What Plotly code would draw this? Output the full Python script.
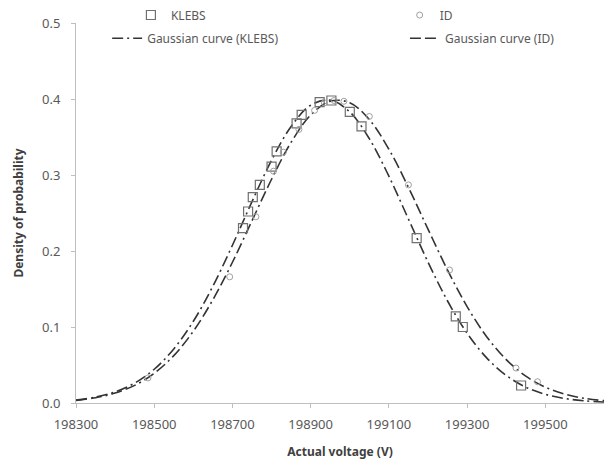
import plotly.graph_objects as go

# measured points
klebs_v = [198727, 198740, 198752, 198770, 198800, 198813, 198864, 198877,
           198923, 198953, 199000, 199030, 199171, 199271, 199289, 199438]
klebs_d = [0.230, 0.252, 0.271, 0.287, 0.311, 0.331, 0.368, 0.379,
           0.396, 0.398, 0.383, 0.364, 0.217, 0.114, 0.100, 0.023]

id_v = [198484, 198693, 198760, 198805, 198830, 198870, 198910, 198935,
        198960, 198985, 199050, 199150, 199255, 199425, 199480]
id_d = [0.033, 0.166, 0.245, 0.305, 0.330, 0.360, 0.385, 0.395,
        0.398, 0.397, 0.377, 0.287, 0.175, 0.046, 0.028]

# gaussian curves
curve_v = [198300, 198350, 198400, 198450, 198500, 198550, 198600, 198650,
           198700, 198750, 198800, 198850, 198900, 198950, 199000, 199050,
           199100, 199150, 199200, 199250, 199300, 199350, 199400, 199450,
           199500, 199550, 199600, 199650]
gauss_klebs = [0.0038, 0.0077, 0.0146, 0.0262, 0.0444, 0.0712, 0.1075, 0.1537,
               0.2076, 0.2650, 0.3194, 0.3639, 0.3918, 0.3985, 0.3830, 0.3478,
               0.2984, 0.2420, 0.1854, 0.1342, 0.0918, 0.0594, 0.0363, 0.0209,
               0.0114, 0.0059, 0.0029, 0.0013]
gauss_id = [0.0035, 0.0070, 0.0131, 0.0232, 0.0391, 0.0623, 0.0945, 0.1359,
            0.1852, 0.2398, 0.2944, 0.3430, 0.3789, 0.3972, 0.3951, 0.3729,
            0.3339, 0.2837, 0.2287, 0.1749, 0.1268, 0.0873, 0.0571, 0.0353,
            0.0208, 0.0116, 0.0061, 0.0031]

fig = go.Figure()

fig.add_trace(go.Scatter(x=curve_v, y=gauss_klebs, mode='lines', name='Gaussian curve (KLEBS)',
                         line=dict(color='#333333', width=1.6, dash='11px,4px,2px,4px', shape='spline'),
                         legend='legend3'))
fig.add_trace(go.Scatter(x=curve_v, y=gauss_id, mode='lines', name='Gaussian curve (ID)',
                         line=dict(color='#333333', width=1.6, dash='11px,4px,11px,4px,2px,4px', shape='spline'),
                         legend='legend4'))
fig.add_trace(go.Scatter(x=klebs_v, y=klebs_d, mode='markers', name='KLEBS',
                         marker=dict(symbol='square-open', size=9, color='#707070', line=dict(width=1.2)),
                         legend='legend'))
fig.add_trace(go.Scatter(x=id_v, y=id_d, mode='markers', name='ID',
                         marker=dict(symbol='circle-open', size=6, color='#A0A0A0', line=dict(width=1)),
                         legend='legend2'))

leg_font = dict(family='Noto Sans', size=12, color='#595959')


def leg(x, y):
    return dict(x=x, y=y, xanchor='left', yanchor='middle', font=leg_font,
                bgcolor='rgba(0,0,0,0)')


fig.update_layout(
    width=605, height=470,
    margin=dict(l=76, r=1, t=23, b=67, autoexpand=False),
    showlegend=True,
    plot_bgcolor='white', paper_bgcolor='white',
    font=dict(family='Noto Sans', size=13, color='#595959'),
    legend=leg(0.104, 1.021),
    legend2=leg(0.613, 1.021),
    legend3=leg(0.059, 0.96),
    legend4=leg(0.623, 0.96),
    xaxis=dict(range=[198300, 199650], tick0=198300, dtick=200, tickformat='d',
               showline=True, linecolor='#BFBFBF', linewidth=1, ticks='outside',
               tickcolor='#BFBFBF', ticklen=4, showgrid=False, zeroline=False, automargin=False,
               ticklabelstandoff=5,
               title=dict(text='<b>Actual voltage (V)</b>', font=dict(size=12, color='#404040'), standoff=16)),
    yaxis=dict(range=[0, 0.5], dtick=0.1, tickformat='.1f',
               showline=True, linecolor='#BFBFBF', linewidth=1, ticks='outside',
               tickcolor='#BFBFBF', ticklen=4, showgrid=False, zeroline=False, automargin=False,
               ticklabelstandoff=8,
               title=dict(text='<b>Density of probability</b>', font=dict(size=12, color='#404040'), standoff=15)),
)

fig.write_html("out.html", config={'displayModeBar': False},
               post_script="document.body.style.margin='0';")
